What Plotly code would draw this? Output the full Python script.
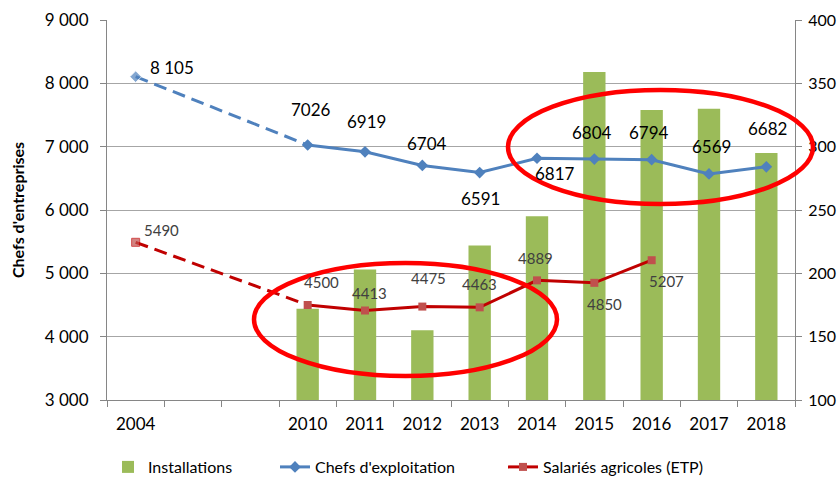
import plotly.graph_objects as go

# ---- data ----
categories = ["2004", " ", "  ", "2010", "2011", "2012", "2013", "2014", "2015", "2016", "2017", "2018"]
tick_labels = ["2004", "", "", "2010", "2011", "2012", "2013", "2014", "2015", "2016", "2017", "2018"]

chefs_years = ["2004", "2010", "2011", "2012", "2013", "2014", "2015", "2016", "2017", "2018"]
chefs_values = [8105, 7026, 6919, 6704, 6591, 6817, 6804, 6794, 6569, 6682]

salaries_years = ["2004", "2010", "2011", "2012", "2013", "2014", "2015", "2016"]
salaries_values = [5490, 4500, 4413, 4475, 4463, 4889, 4850, 5207]

install_years = ["2010", "2011", "2012", "2013", "2014", "2015", "2016", "2017", "2018"]
install_values = [172, 203, 155, 222, 245, 359, 329, 330, 295]

# label offsets (pixels) for data labels
chefs_shift = [(36, 9), (3, 36), (1, 30), (5, 22), (1, -26), (18, -15), (-2, 27), (-3, 27), (2, 27), (1, 38)]
sal_shift = [(26, 12), (14, 23), (4, 18), (6, 29), (0, 23), (-2, 22), (10, -21), (15, -21)]

BLUE = "#4F81BD"
RED_LINE = "#C00000"
RED_MARK = "#C0504D"
GREEN = "#9BBB59"
FONT = "Lato, Open Sans, sans-serif"

fig = go.Figure()

fig.add_trace(go.Bar(
    x=install_years, y=install_values, name="Installations", yaxis="y", legend="legend",
    marker=dict(color=GREEN, line=dict(width=0)), width=0.39,
))

# dashed segments 2004 -> 2010
fig.add_trace(go.Scatter(
    x=chefs_years[:2], y=chefs_values[:2], mode="lines+markers", showlegend=False, yaxis="y2",
    line=dict(color=BLUE, width=3, dash="13px,7px"),
    marker=dict(symbol="diamond", size=[9, 0], color=BLUE), hoverinfo="skip",
))
fig.add_trace(go.Scatter(
    x=salaries_years[:2], y=salaries_values[:2], mode="lines+markers", showlegend=False, yaxis="y2",
    line=dict(color=RED_LINE, width=3, dash="13px,7px"),
    marker=dict(symbol="square", size=[8, 0], color=RED_MARK), hoverinfo="skip",
))

fig.add_trace(go.Scatter(
    x=chefs_years[1:], y=chefs_values[1:], mode="lines+markers", name="Chefs d'exploitation",
    yaxis="y2", legend="legend2",
    line=dict(color=BLUE, width=3),
    marker=dict(symbol="diamond", size=9, color=BLUE),
))
fig.add_trace(go.Scatter(
    x=salaries_years[1:], y=salaries_values[1:], mode="lines+markers", name="Salariés agricoles (ETP)",
    yaxis="y2", legend="legend3",
    line=dict(color=RED_LINE, width=3),
    marker=dict(symbol="square", size=8, color=RED_MARK),
))

annotations = []
for i, (yr, v) in enumerate(zip(chefs_years, chefs_values)):
    txt = f"{v:,}".replace(",", " ") if i == 0 else str(v)
    dx, dy = chefs_shift[i]
    annotations.append(dict(x=categories.index(yr), y=v, xref="x", yref="y2", text=txt, showarrow=False,
                            xshift=dx, yshift=dy, font=dict(size=17, color="#000000", family=FONT)))
for i, (yr, v) in enumerate(zip(salaries_years, salaries_values)):
    dx, dy = sal_shift[i]
    annotations.append(dict(x=categories.index(yr), y=v, xref="x", yref="y2", text=str(v), showarrow=False,
                            xshift=dx, yshift=dy, font=dict(size=15, color="#404040", family=FONT)))

L, R, T, B = 107, 44, 20, 78
W, H = 839, 478
pw, ph = W - L - R, H - T - B


def px(x):
    return (x - L) / pw


def py(y):
    return (H - B - y) / ph


shapes = [
    dict(type="circle", xref="paper", yref="paper", x0=px(254), x1=px(557), y0=py(376), y1=py(263),
         line=dict(color="#FF0000", width=4.5), layer="above"),
    dict(type="circle", xref="paper", yref="paper", x0=px(508), x1=px(813), y0=py(204), y1=py(90),
         line=dict(color="#FF0000", width=4.5), layer="above"),
]

leg_common = dict(orientation="h", xanchor="left", yanchor="middle", y=py(467),
                  font=dict(size=16, color="#000000", family=FONT), bgcolor="rgba(0,0,0,0)",
                  borderwidth=0)

fig.update_layout(
    width=W, height=H,
    margin=dict(l=L, r=R, t=T, b=B, pad=0, autoexpand=False),
    paper_bgcolor="white", plot_bgcolor="white",
    font=dict(family=FONT, color="#000000"),
    separators=", ",
    showlegend=True,
    legend=dict(x=px(108), **leg_common),
    legend2=dict(x=px(275), **leg_common),
    legend3=dict(x=px(503), **leg_common),
    annotations=annotations,
    shapes=shapes,
    xaxis=dict(
        type="category", categoryorder="array", categoryarray=categories,
        tickmode="array", tickvals=categories, ticktext=tick_labels,
        range=[-0.5, len(categories) - 0.5],
        tickson="boundaries", ticks="outside", ticklen=6, tickcolor="#868686",
        showline=True, linecolor="#868686", linewidth=1, showgrid=False,
        tickfont=dict(size=17, color="#000000"), ticklabelstandoff=9,
    ),
    yaxis=dict(
        range=[100, 400], dtick=50, side="right",
        showgrid=True, gridcolor="#A6A6A6", gridwidth=1,
        showline=True, linecolor="#868686", linewidth=1,
        ticks="outside", ticklen=6, tickcolor="#868686",
        tickfont=dict(size=16, color="#000000"), zeroline=False, ticklabelstandoff=3,
    ),
    yaxis2=dict(
        range=[3000, 9000], dtick=1000, tickformat=",d", overlaying="y", side="left",
        showgrid=False, showline=True, linecolor="#868686", linewidth=1,
        ticks="outside", ticklen=6, tickcolor="#868686",
        tickfont=dict(size=17, color="#000000"), ticklabelstandoff=8,
        title=dict(text="<b>Chefs d'entreprises</b>", font=dict(size=16, color="#000000"), standoff=16),
        zeroline=False,
    ),
)

fig.write_html("out.html", config={"displayModeBar": False},
               post_script="document.body.style.margin='0';")
